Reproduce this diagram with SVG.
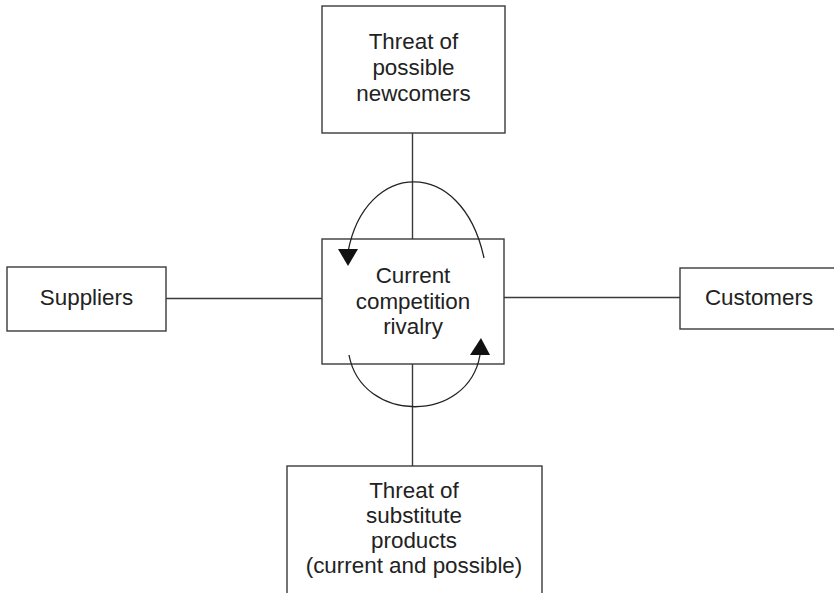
<svg xmlns="http://www.w3.org/2000/svg" width="834" height="593" viewBox="0 0 834 593">
<style>
.box{fill:#fff;stroke:#3a3a3a;stroke-width:1.4}
.ln{fill:none;stroke:#3a3a3a;stroke-width:1.4}
.arc{fill:none;stroke:#222;stroke-width:1.3}
.ah{fill:#111;stroke:none}
text{font-family:"Liberation Sans",Arial,sans-serif;font-size:22.4px;fill:#222;text-anchor:middle}
</style>
<rect width="834" height="593" fill="#fff"/>
<g id="newcomers">
<rect class="box" x="322" y="6" width="183" height="127"/>
<text x="413.5" y="49">Threat of</text>
<text x="413.5" y="75">possible</text>
<text x="413.5" y="101">newcomers</text>
</g>
<g id="rivalry">
<rect class="box" x="322" y="239" width="182" height="125"/>
<text x="413" y="283">Current</text>
<text x="413" y="309">competition</text>
<text x="413" y="334">rivalry</text>
</g>
<g id="suppliers">
<rect class="box" x="7" y="267" width="159" height="64"/>
<text x="86.5" y="305">Suppliers</text>
</g>
<g id="customers">
<rect class="box" x="680" y="268" width="170" height="61"/>
<text x="759" y="305">Customers</text>
</g>
<g id="substitutes">
<rect class="box" x="287" y="466" width="255" height="140"/>
<text x="414" y="498">Threat of</text>
<text x="414" y="523">substitute</text>
<text x="414" y="548">products</text>
<text x="414" y="573">(current and possible)</text>
</g>
<g id="connectors">
<line class="ln" x1="412.5" y1="133" x2="412.5" y2="239"/>
<line class="ln" x1="412.5" y1="364" x2="412.5" y2="466"/>
<line class="ln" x1="166" y1="298.5" x2="322" y2="298.5"/>
<line class="ln" x1="504" y1="297.5" x2="680" y2="297.5"/>
<path class="arc" d="M 348 252 C 365 160, 462 155, 484 258"/>
<polygon class="ah" points="338,249 358,249 348,266"/>
<path class="arc" d="M 349 355 C 362 424, 468 424, 480 355"/>
<polygon class="ah" points="470,355 490,355 481,338"/>
</g>
</svg>
